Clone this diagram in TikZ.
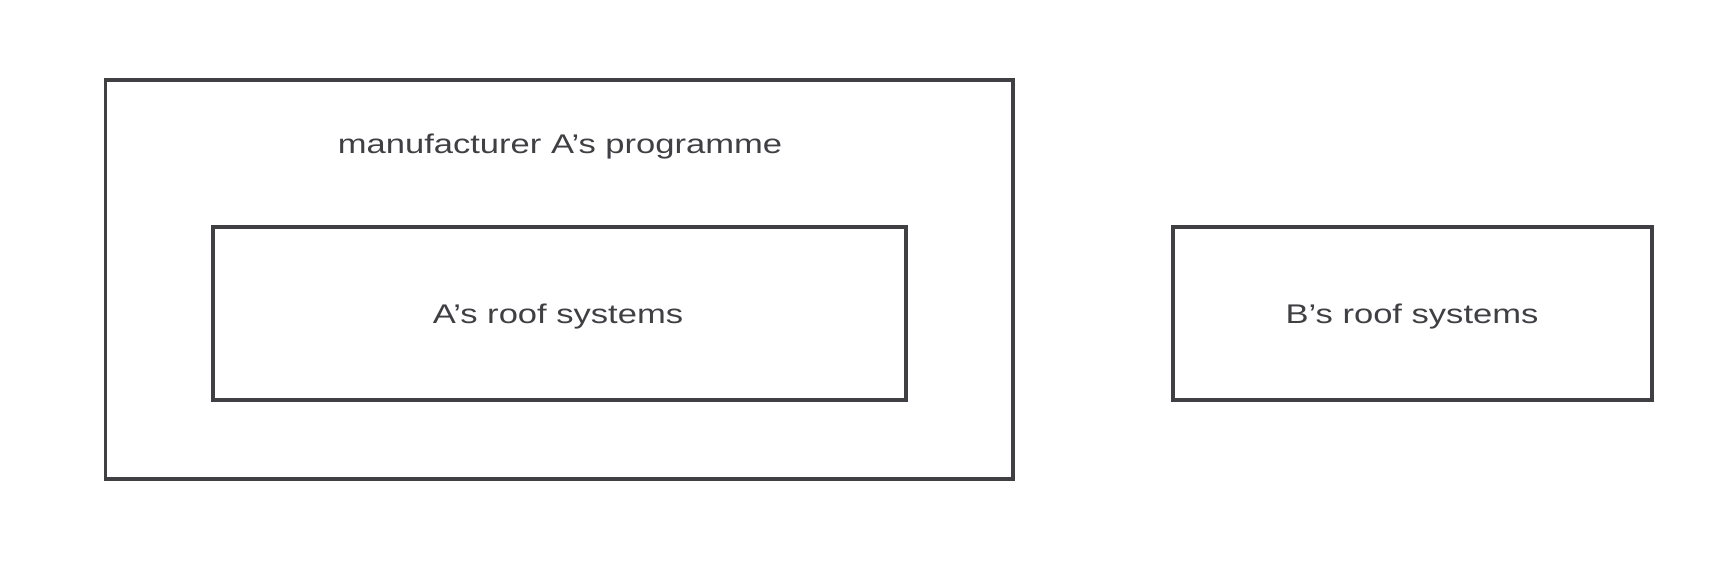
\documentclass[tikz,border=0pt]{standalone}
\usepackage{fontspec}
\setmainfont[FakeStretch=1.28]{Liberation Sans}
\usepackage{tikz}
\usetikzlibrary{positioning}
\definecolor{boxgray}{RGB}{64,64,68}
\tikzstyle{sysbox}=[rectangle, draw=boxgray, line width=3.3pt, inner sep=0pt]
\tikzstyle{lbl}=[text=boxgray, font=\fontsize{27}{32}\selectfont, inner sep=0pt, anchor=base]

\begin{document}
\begin{tikzpicture}[x=1pt,y=-1pt]
		\useasboundingbox(0,0)rectangle(1733,560);
		\node[sysbox, minimum width=907.5pt, minimum height=399pt](prog)at(559.25,279.5){};
		\node[sysbox, minimum width=693pt, minimum height=173pt](roofA)at(559.5,313.5){};
		\node[sysbox, minimum width=479pt, minimum height=173pt](roofB)at(1412.5,313.5){};
		\node[lbl](progtext)at(560,153){manufacturer A’s programme};
		\node[lbl](roofAtext)at(558,323){A’s roof systems};
		\node[lbl](roofBtext)at(1412,323){B’s roof systems};
\end{tikzpicture}
\end{document}
